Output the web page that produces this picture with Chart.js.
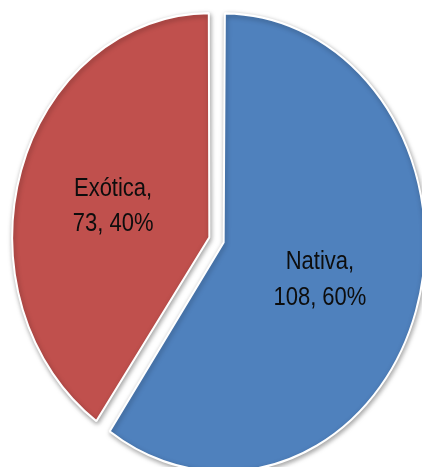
<!DOCTYPE html>
<html>
<head>
<meta charset="utf-8">
<script src="https://cdn.jsdelivr.net/npm/chart.js@4"></script>
<style>
  html, body { margin: 0; padding: 0; background: #ffffff; overflow: hidden; }
  canvas { display: block; }
</style>
</head>
<body>
<canvas id="c" width="422" height="467" style="width:422px;height:467px"></canvas>
<script>
const categories = ['Nativa', 'Exótica'];
const counts = [108, 73];
const percents = [60, 40];
const colors = ['#4F81BD', '#C0504D'];

const STRETCH_Y = 1.137;

const stretchPlugin = {
  id: 'stretch',
  beforeDraw(chart) {
    chart.ctx.save();
    chart.ctx.scale(1, STRETCH_Y);
  },
  afterDraw(chart) {
    chart.ctx.restore();
  }
};

const shadowPlugin = {
  id: 'shadow',
  beforeDatasetsDraw(chart) {
    const ctx = chart.ctx;
    ctx.save();
    ctx.shadowColor = 'rgba(0,0,0,0.35)';
    ctx.shadowBlur = 5;
    ctx.shadowOffsetX = 1;
    ctx.shadowOffsetY = 2;
  },
  afterDatasetsDraw(chart) {
    chart.ctx.restore();
  }
};

const labelPlugin = {
  id: 'sliceLabels',
  afterDatasetsDraw(chart) {
    const ctx = chart.ctx;
    const meta = chart.getDatasetMeta(0);
    ctx.save();
    ctx.font = '22px "Liberation Sans", Arial, sans-serif';
    ctx.fillStyle = '#0d0d0d';
    ctx.textAlign = 'center';
    ctx.textBaseline = 'middle';
    meta.data.forEach((arc, i) => {
      const p = arc.getProps(['x', 'y', 'startAngle', 'endAngle', 'outerRadius']);
      const off = (arc.options.offset || 0) / 4;
      const mid = (p.startAngle + p.endAngle) / 2;
      const r = p.outerRadius * 0.52 + off;
      const cx = p.x + Math.cos(mid) * r;
      const cy = p.y + Math.sin(mid) * r + 3;
      const lines = [categories[i] + ',', counts[i] + ', ' + percents[i] + '%'];
      ctx.fillText(lines[0], cx, cy - 15.6);
      ctx.fillText(lines[1], cx, cy + 15.6);
    });
    ctx.restore();
  }
};

new Chart(document.getElementById('c'), {
  type: 'pie',
  data: {
    labels: categories,
    datasets: [{
      data: counts,
      backgroundColor: colors,
      borderColor: '#ffffff',
      borderWidth: 2,
      offset: 30,
      hoverOffset: 30,
      clip: false
    }]
  },
  options: {
    responsive: false,
    animation: false,
    devicePixelRatio: 1,
    radius: 194,
    layout: { padding: { left: 11, right: 0, top: 13, bottom: 58 } },
    plugins: {
      legend: { display: false },
      tooltip: { enabled: false }
    }
  },
  plugins: [stretchPlugin, shadowPlugin, labelPlugin]
});
</script>
</body>
</html>
